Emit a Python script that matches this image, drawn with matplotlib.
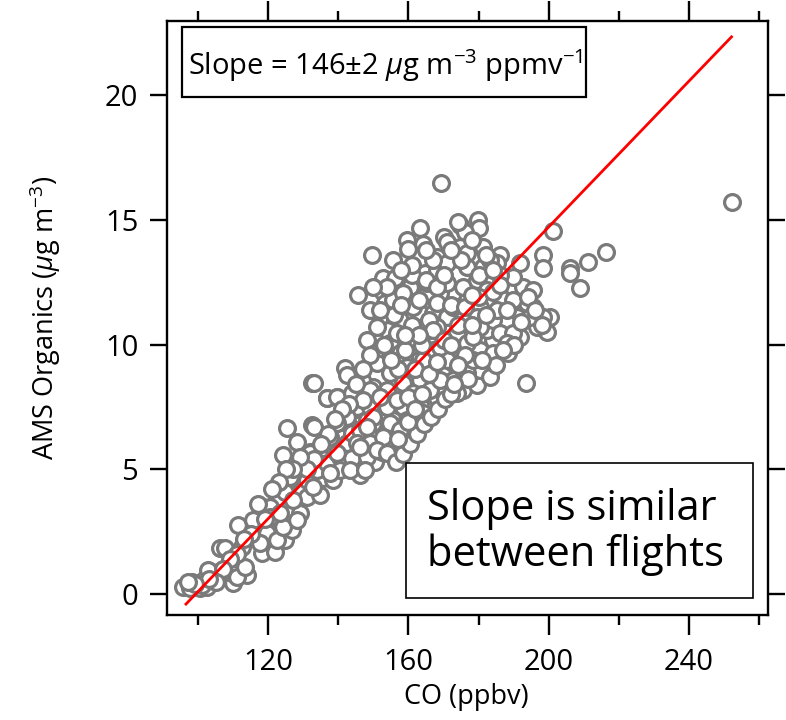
import numpy as np
import matplotlib
matplotlib.use("Agg")
import matplotlib.pyplot as plt
from matplotlib.patches import Rectangle

plt.rcParams['font.family'] = ['Open Sans', 'DejaVu Sans']
plt.rcParams['mathtext.fontset'] = 'custom'
plt.rcParams['mathtext.rm'] = 'Open Sans'
plt.rcParams['mathtext.it'] = 'Open Sans:italic'

# CO (ppbv) vs AMS organics (ug m-3)
co_ppbv = [
    95.7, 98.1, 101.5, 100.5, 103.4, 105.7, 108.1, 110.0, 112.4, 113.8,
    111.4, 106.2, 111.4, 112.4, 118.1, 121.9, 117.6, 121.0, 124.8, 126.7,
    118.6, 122.4, 120.5, 125.2, 128.1, 129.5, 124.8, 129.0, 130.9, 134.8,
    124.3, 128.1, 125.2, 132.4, 131.9, 136.7, 139.5, 132.4, 135.7, 138.6,
    138.1, 146.2, 145.7, 150.4, 152.4, 153.8, 150.4, 146.2, 142.4, 139.5,
    97.65, 102.4, 104.3, 109.5, 111.0, 113.4, 114.8, 116.7, 119.5, 122.4,
    124.3, 115.7, 117.6, 120.5, 123.3, 127.1, 128.1, 126.2, 130.9, 132.8,
    133.8, 136.7, 137.6, 140.5, 142.4, 143.8, 143.8, 146.2, 148.1, 150.0,
    151.9, 153.8, 155.7, 144.3, 148.1, 145.2, 150.0, 155.7, 155.7, 150.9,
    148.1, 140.5, 137.6, 143.3, 147.6, 145.2, 149.0, 101.0, 102.9, 107.6,
    # upper cloud
    169.3, 163.3, 159.5, 164.1, 160.0, 170.0, 174.7, 179.9, 180.1, 176.1,
    174.7, 149.5, 155.7, 168.0, 172.8, 178.5, 186.1, 201.3, 198.5, 198.5,
    206.1, 206.1, 209.0, 145.7, 152.8, 156.2, 152.8, 153.3, 160.4, 164.7,
    168.0, 170.9, 176.6, 181.4, 185.2, 191.8, 184.2, 189.9, 192.8, 195.6,
    200.4, 199.4, 196.6, 193.7, 190.9, 188.0, 191.8, 188.5, 184.2, 182.3,
    180.4, 184.2, 180.4, 176.6, 172.8, 169.0, 165.2, 163.3, 167.1, 170.9,
    175.7, 179.5, 184.2, 161.4, 157.6, 153.8, 148.1, 150.5, 154.7, 157.6,
    161.4, 166.1, 170.0, 173.8, 176.6, 171.9, 167.1, 163.3, 159.5, 154.7,
    150.9, 141.9, 142.4, 146.6, 132.9, 136.7, 139.5, 143.8, 149.0, 153.8,
    158.5, 163.3, 168.0, 172.8, 175.7, 179.5, 180.4, 175.2, 193.5, 145.2,
    149.0, 153.8, 158.5, 163.3, 168.0, 164.2, 159.5, 154.7, 150.0, 142.4,
    161.4, 157.6, 152.8, 148.1, 132.9, 139.5, 137.6, 131.9, 150.9, 146.2,
    153.8, 139.5,
    165.2, 170.9, 175.7, 179.5, 182.3, 186.1, 189.9, 168.0, 172.8, 164.2,
    168.0, 180.4, 186.1, 178.5, 170.0, 165.2, 160.4, 156.6, 151.9, 149.0,
    155.7, 158.5, 160.9, 176.6, 181.4, 183.3, 189.9, 195.6, 198.5, 194.7,
    185.2, 189.9, 188.0, 184.2, 183.3, 176.6, 172.8, 178.5, 173.8, 170.0,
    166.1, 161.4, 156.6, 151.9, 147.1, 164.2, 169.0,
    156.5, 158.5, 160.5, 162.5, 164.5, 157.0, 160.0, 166.5, 168.5, 170.5,
    172.0, 211.3, 216.4, 252.4,
    # dense core fill
    157.0, 159.0, 161.0, 163.0, 165.0, 162.0, 164.0, 166.0, 168.0, 170.0,
    172.0, 174.0, 176.0, 178.0, 180.0, 182.0, 184.0, 186.0, 188.0, 190.0,
    192.0, 194.0, 196.0, 198.0, 185.0, 187.0, 181.0, 177.0, 173.0, 171.0,
    169.0, 167.0, 163.0, 159.0, 155.0, 153.0, 151.0, 149.0, 147.0, 145.0,
    143.0, 141.0, 139.0, 137.0, 135.0, 133.0, 131.0, 129.0, 127.0, 125.0,
    123.0, 121.0, 119.0, 117.0, 115.0, 113.0, 111.0, 109.0, 107.0, 105.0,
    103.0, 99.0, 97.0, 160.0, 162.0, 164.0, 166.0, 168.0, 170.0, 172.0,
    174.0, 176.0, 178.0, 180.0, 182.0, 184.0, 186.0, 175.0, 171.0, 167.0,
    165.0, 161.0, 158.0, 156.0, 158.0, 154.0, 152.0, 150.0, 178.0, 174.0,
    172.0,
]
organics = [
    0.29, 0.49, 0.56, 0.23, 0.83, 0.89, 1.09, 0.43, 0.89, 0.76,
    1.16, 1.83, 2.76, 1.90, 1.63, 1.70, 2.30, 2.43, 2.17, 2.57,
    3.50, 3.83, 3.50, 4.50, 4.70, 4.17, 4.10, 3.23, 3.90, 3.97,
    5.57, 6.10, 6.64, 6.77, 5.70, 7.84, 7.91, 8.44, 4.64, 4.57,
    5.30, 4.77, 5.37, 5.30, 5.70, 6.11, 6.44, 7.17, 6.84, 6.84,
    0.23, 0.29, 0.69, 0.83, 0.69, 1.09, 2.30, 2.70, 2.43, 2.17,
    2.70, 2.97, 2.03, 3.10, 3.23, 3.77, 2.97, 4.70, 4.57, 4.30,
    4.97, 5.24, 5.97, 5.50, 6.04, 5.44, 6.44, 6.57, 6.97, 6.84,
    7.24, 7.51, 7.78, 7.37, 7.78, 8.18, 8.31, 6.97, 6.17, 5.77,
    5.50, 4.97, 4.84, 4.97, 4.97, 6.04, 6.04, 0.36, 0.96, 1.84,
    16.49, 14.66, 14.19, 14.03, 13.81, 14.32, 14.79, 14.99, 14.66, 14.52,
    13.92, 13.59, 13.39, 13.52, 13.52, 13.52, 13.59, 14.56, 13.59, 13.05,
    13.05, 12.85, 12.25, 11.98, 12.65, 12.65, 12.12, 11.65, 12.32, 12.85,
    12.99, 13.25, 13.12, 13.12, 13.25, 13.25, 12.59, 12.32, 12.32, 11.52,
    11.12, 10.51, 10.71, 11.65, 11.12, 10.85, 10.32, 9.65, 10.18, 10.58,
    9.78, 9.11, 11.52, 11.78, 12.05, 12.05, 12.05, 11.25, 11.25, 11.12,
    11.25, 11.12, 10.98, 11.52, 10.98, 10.58, 10.18, 9.65, 10.05, 9.65,
    10.45, 10.58, 10.18, 10.45, 10.05, 9.65, 9.78, 9.51, 9.11, 8.85,
    9.25, 9.05, 8.78, 8.58, 8.47, 7.84, 7.91, 8.04, 8.18, 8.18,
    8.45, 8.58, 8.71, 8.58, 8.18, 8.38, 8.98, 9.05, 8.47, 7.51,
    7.51, 7.51, 7.51, 7.64, 7.84, 7.24, 6.97, 6.84, 7.11, 7.11,
    6.71, 6.57, 6.31, 6.71, 6.71, 6.84, 6.31, 5.64, 5.77, 5.90,
    5.64, 5.64,
    12.45, 12.45, 12.32, 12.59, 12.18, 11.92, 11.78, 11.65, 11.52, 10.71,
    10.71, 10.71, 10.45, 10.31, 9.11, 8.98, 9.91, 10.45, 11.12, 11.38,
    11.78, 12.05, 12.78, 13.65, 13.92, 13.39, 12.72, 12.18, 11.12, 11.12,
    11.38, 10.45, 10.05, 9.65, 8.71, 8.85, 9.25, 9.38, 8.04, 8.04,
    8.18, 8.04, 7.78, 7.91, 7.78, 9.38, 8.58,
    5.3, 5.6, 6.0, 6.4, 6.8, 6.2, 6.9, 7.1, 7.4, 7.8,
    8.0, 13.3, 13.7, 15.72,
    9.0, 9.8, 10.8, 11.8, 12.6, 9.0, 10.0, 11.0, 12.3, 12.8,
    11.6, 10.8, 9.6, 10.8, 11.9, 11.2, 12.1, 12.8, 11.4, 10.0,
    10.9, 11.9, 11.4, 10.8, 9.2, 9.8, 9.4, 8.6, 8.4, 9.4,
    9.9, 10.6, 10.4, 10.4, 9.4, 10.0, 10.7, 9.6, 9.0, 8.4,
    7.6, 7.4, 7.0, 6.4, 6.0, 5.4, 5.0, 5.5, 5.0, 5.0,
    4.5, 4.2, 3.0, 3.6, 2.4, 2.2, 1.6, 1.4, 1.0, 0.5,
    0.6, 0.4, 0.5, 7.9, 7.4, 8.0, 8.8, 9.3, 10.2, 10.0,
    9.2, 11.5, 12.0, 12.8, 13.6, 13.0, 12.4, 13.4, 14.1, 13.4,
    13.8, 13.2, 13.0, 11.2, 11.6, 12.3, 11.4, 12.3, 14.2, 14.9,
    13.8,
]

# linear fit shown in the figure
fit_slope = 0.146
fit_intercept = -14.49
fit_x = [96.5, 252.2]

slope_label = r"Slope = 146±2 $\mu$g m$^{-3}$ ppmv$^{-1}$"
note_label = "Slope is similar\nbetween flights"

fig = plt.figure(figsize=(7.86, 7.2), dpi=100)
ax = fig.add_axes([0.2121, 0.1458, 0.7654, 0.8255])

ax.scatter(co_ppbv, organics, s=130, facecolors='white', edgecolors='#7a7a7a',
           linewidths=2.3, zorder=2)
fx = np.array(fit_x)
ax.plot(fx, fit_slope * fx + fit_intercept, color='red', lw=2.0, zorder=3)

ax.set_xlim(91, 262.7)
ax.set_ylim(-0.84, 22.98)
ax.set_xticks([120, 160, 200, 240])
ax.set_xticks([100, 140, 180, 220, 260], minor=True)
ax.set_yticks([0, 5, 10, 15, 20])

for s in ax.spines.values():
    s.set_linewidth(1.7)
ax.tick_params(which='both', direction='out', top=True, right=True,
               width=1.7, labelsize=21, colors='black')
ax.tick_params(axis='x', which='major', length=14.4, pad=9)
ax.tick_params(axis='x', which='minor', length=7.2)
ax.tick_params(axis='y', which='major', length=12.5, pad=8)

fig.text(466 / 786, 1 - 697 / 720, "CO (ppbv)", fontsize=19.5, ha='center', va='center')
fig.text(45 / 786, 1 - 318 / 720, r"AMS Organics ($\mu$g m$^{-3}$)", fontsize=19.5,
         ha='center', va='center', rotation=90)

ax.add_patch(Rectangle((0.025, 0.871), 0.672, 0.119, transform=ax.transAxes,
                       fill=False, lw=1.6, ec='black', zorder=4))
ax.text(0.036, 0.925, slope_label, transform=ax.transAxes, fontsize=21,
        ha='left', va='center', zorder=5)

ax.add_patch(Rectangle((0.398, 0.028), 0.576, 0.227, transform=ax.transAxes,
                       facecolor='white', lw=1.2, ec='black', zorder=4))
ax.text(0.432, 0.14, note_label, transform=ax.transAxes, fontsize=30,
        ha='left', va='center', linespacing=1.1, zorder=5)

fig.savefig("out.png", dpi=100)
